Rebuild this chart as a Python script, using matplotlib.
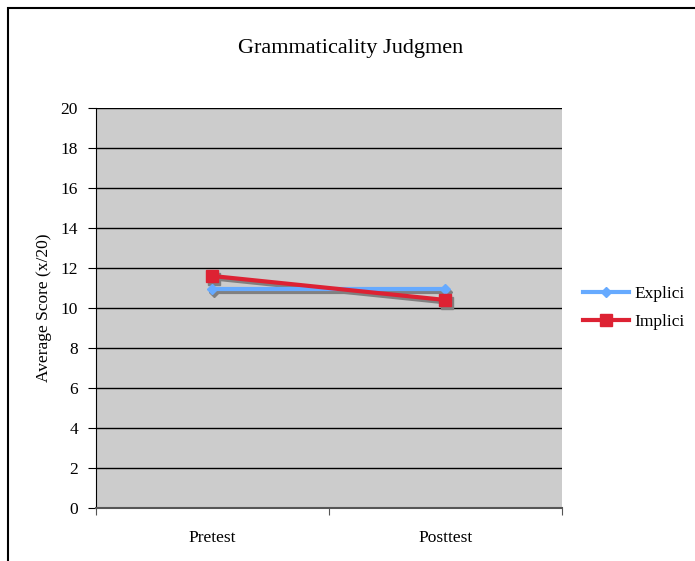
import matplotlib
matplotlib.use("Agg")
import matplotlib.pyplot as plt
from matplotlib.patches import Rectangle
from matplotlib.lines import Line2D
from matplotlib.transforms import offset_copy

categories = ["Pretest", "Posttest"]
explicit = [10.95, 10.95]
implicit = [11.6, 10.4]
yticks = list(range(0, 21, 2))

plt.rcParams['font.family'] = ['Liberation Serif', 'DejaVu Serif']

fig = plt.figure(figsize=(6.95, 5.61), dpi=100)
ax = fig.add_axes([96/695, 1-508/561, (562-96)/695, 400/561])
ax.set_facecolor('#cccccc')

x = [0.5, 1.5]
sh = offset_copy(ax.transData, fig=fig, x=1.5, y=-2.5, units='dots')
ax.plot(x, explicit, color='#808080', lw=3, marker='D', ms=5, transform=sh, zorder=2.5)
ax.plot(x, implicit, color='#808080', lw=3, marker='s', ms=8, transform=sh, zorder=2.6)
ax.plot(x, explicit, color='#66aaff', lw=3, marker='D', ms=5, zorder=3)
ax.plot(x, implicit, color='#dd2233', lw=3, marker='s', ms=8, zorder=4)

ax.set_xlim(0, 2)
ax.set_ylim(0, 20)
ax.set_yticks(yticks)
ax.set_xticks([0, 1, 2])
ax.set_xticklabels([])
ax.set_xticks(x, minor=True)
ax.set_xticklabels(categories, minor=True)
ax.tick_params(axis='x', which='minor', length=0, pad=16, labelsize=12.5)
ax.tick_params(axis='x', which='major', length=5, direction='out', color='#555555')
ax.tick_params(axis='y', length=6, direction='out', labelsize=12.5, pad=7)
ax.yaxis.grid(True, color='black', lw=1)
ax.set_axisbelow(True)
for s in ['top', 'right']:
    ax.spines[s].set_visible(False)
ax.spines['bottom'].set_color('#555555')
ax.spines['bottom'].set_linewidth(1.5)
ax.spines['left'].set_color('black')
ax.set_ylabel('Average Score (x/20)', fontsize=12.5, labelpad=6)

fig.text(351/695, 1-48/561, 'Grammaticality Judgmen', ha='center', va='center', fontsize=16)

handles = [Line2D([], [], color='#66aaff', lw=3, marker='D', ms=5),
           Line2D([], [], color='#dd2233', lw=3, marker='s', ms=8)]
fig.legend(handles, ['Explici', 'Implici'], loc='center left',
           bbox_to_anchor=(583/695, 1-308/561), frameon=False,
           fontsize=12.5, handlelength=2.65, handletextpad=0.3, labelspacing=0.7,
           borderaxespad=0, borderpad=0)

fig.patches.append(Rectangle((8/695, -0.1), 1.2, 1-8/561+0.1, transform=fig.transFigure,
                             fill=False, edgecolor='black', lw=1.5))

fig.savefig('out.png', dpi=100)
